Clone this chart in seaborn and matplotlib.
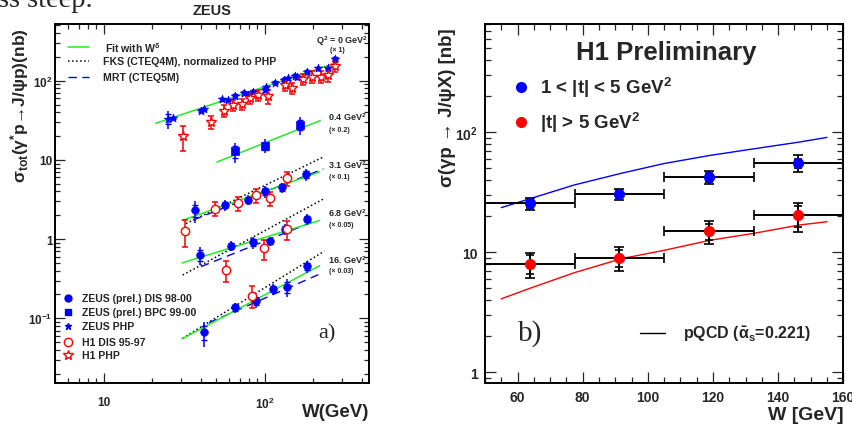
import numpy as np
import matplotlib
matplotlib.use("Agg")
import matplotlib.pyplot as plt
import seaborn as sns
from matplotlib.ticker import LogLocator, FixedLocator, FixedFormatter, MultipleLocator, NullFormatter

# ---------------- panel a) data (sigma already scaled by the Q2 factor) ----------------
# Q2 = 0 (x1) photoproduction
zeus_php_w = [25, 27, 40, 42, 54, 59, 65, 74, 79, 85, 100, 101, 116, 131, 139, 154, 158, 184, 214, 245, 272]
zeus_php_s = [33, 34, 42, 44, 58, 57, 64, 70, 67, 73, 77, 83, 95, 103, 107, 116, 111, 130, 143, 143, 190]
zeus_php_e = [0.25, 0.06, 0.06, 0.06, 0.08, 0.06, 0.08, 0.08, 0.08, 0.08, 0.1, 0.08,
              0.08, 0.08, 0.08, 0.08, 0.08, 0.08, 0.08, 0.08, 0.08]
h1_php_w = [31, 46, 56, 63, 72, 81, 91, 105, 133, 147, 172, 197, 223, 247, 272]
h1_php_s = [20, 30, 42, 49, 51, 61, 66, 64, 88, 80, 105, 113, 113, 118, 155]
h1_php_e = [0.35, 0.18, 0.18, 0.16, 0.16, 0.16, 0.16, 0.2, 0.16, 0.16, 0.16, 0.18, 0.18, 0.18, 0.16]

# Q2 = 0.4 (x0.2) ZEUS BPC
bpc_w = [65, 100, 165]
bpc_s = [12.8, 15.2, 27.7]
bpc_e = [0.28, 0.2, 0.25]

# ZEUS DIS 98-00
dis31_w = [36.6, 56.4, 79, 100, 128, 179]
dis31_s = [2.3, 2.68, 3.13, 4.02, 4.5, 6.6]
dis31_e = [0.3, 0.15, 0.15, 0.18, 0.15, 0.18]
dis68_w = [39.4, 61.6, 84.5, 107, 134, 182]
dis68_s = [0.63, 0.83, 0.91, 0.94, 1.34, 1.79]
dis68_e = [0.25, 0.15, 0.18, 0.12, 0.15, 0.15]
dis16_w = [41.8, 65.3, 88, 112, 138, 184]
dis16_s = [0.067, 0.137, 0.166, 0.235, 0.249, 0.454]
dis16_e = [0.35, 0.15, 0.18, 0.15, 0.25, 0.18]

# H1 DIS 95-97
h1dis31_w = [31.8, 48.9, 68.3, 88.6, 108, 138]
h1dis31_s = [1.28, 2.43, 2.84, 3.57, 3.31, 5.9]
h1dis31_e = [0.38, 0.2, 0.2, 0.2, 0.2, 0.2]
h1dis68_w = [57, 98.6, 138]
h1dis68_s = [0.407, 0.764, 1.34]
h1dis68_e = [0.3, 0.28, 0.28]
h1dis16_w = [83.8]
h1dis16_s = [0.194]
h1dis16_e = [0.3]

# fit with W^delta (green), FKS (dotted), MRT (dashed): end points
fit_lines = {
    "0": ([21, 287], [29, 173]),
    "0.4": ([50.4, 221], [9.4, 31.4]),
    "3.1": ([30.6, 219], [1.72, 7.05]),
    "6.8": ([30.6, 219], [0.5, 1.72]),
    "16": ([30.6, 219], [0.055, 0.462]),
}
fks_lines = {
    "3.1": ([32.4, 231], [1.57, 10.9]),
    "6.8": ([30.9, 237], [0.352, 3.3]),
    "16": ([30.9, 234], [0.056, 0.706]),
}
mrt_lines = {
    "3.1": ([36, 231], [1.75, 7.7]),
    "6.8": ([40.2, 210], [0.45, 1.73]),
    "16": ([45, 231], [0.088, 0.38]),
}

# ---------------- panel b) data ----------------
bin_w = [63.75, 91.25, 118.75, 146.25]
bin_half = [13.75, 13.75, 13.75, 13.75]
lowt_s = [25.6, 30.5, 42.3, 55.4]
lowt_stat = [2.0, 2.3, 3.5, 5.0]
lowt_tot = [2.9, 3.4, 5.5, 9.0]
hight_s = [8.06, 9.05, 15.0, 20.4]
hight_stat = [1.4, 1.5, 2.4, 4.0]
hight_tot = [1.9, 2.0, 3.3, 5.5]

pqcd_w = [55, 64, 77.5, 92, 105, 119, 132.5, 146.5, 155]
pqcd_lowt = [23.6, 28.1, 36.5, 45.7, 55, 64.2, 72.9, 83, 90.8]
pqcd_hight = [4.1, 5.04, 6.78, 8.87, 10.4, 12.6, 14.4, 16.9, 18.0]

GREEN = "#22ee22"
BLUE = "#0000ff"
RED = "#ff0000"
B = "bold"

sns.set_theme(style="ticks")
plt.rcParams["font.family"] = ["Liberation Sans", "DejaVu Sans"]
plt.rcParams["font.weight"] = "bold"
plt.rcParams["axes.labelweight"] = "bold"
plt.rcParams["mathtext.fontset"] = "custom"
plt.rcParams["mathtext.rm"] = "Liberation Sans:bold"
plt.rcParams["mathtext.bf"] = "Liberation Sans:bold"
plt.rcParams["mathtext.it"] = "Liberation Sans:bold:italic"
plt.rcParams["mathtext.sf"] = "Liberation Sans:bold"
plt.rcParams["mathtext.default"] = "bf"

fig = plt.figure(figsize=(8.52, 4.31), dpi=100)
ax1 = fig.add_axes([0.0649, 0.1083, 0.3685, 0.8336])
ax2 = fig.add_axes([0.5692, 0.1097, 0.4205, 0.8323])


def line(ax, w, s, color, ls="-", lw=1.0):
    sns.lineplot(x=w, y=s, ax=ax, color=color, linestyle=ls, linewidth=lw,
                 estimator=None, sort=False, legend=False)


def points(ax, w, s, rel, marker, color, size, filled=True, caps=0, ticks=False):
    s = np.array(s)
    err = s * np.array(rel)
    ax.errorbar(w, s, yerr=err, fmt="none", ecolor=color, elinewidth=1.1, capsize=caps, capthick=1.1, zorder=3)
    if ticks:
        ax.scatter(w, s + 0.6 * err, marker="_", s=18, color=color, lw=1.0, zorder=3)
        ax.scatter(w, s - 0.6 * err, marker="_", s=18, color=color, lw=1.0, zorder=3)
    if filled:
        sns.scatterplot(x=w, y=s, ax=ax, marker=marker, s=size, color=color, edgecolor=color,
                        linewidth=0.5, legend=False, zorder=4)
    else:
        ax.plot(w, s, linestyle="none", marker=marker, ms=np.sqrt(size), mfc="white", mec=color,
                mew=1.0, zorder=4)


# ---------------- panel a ----------------
ax1.set_xscale("log")
ax1.set_yscale("log")
for key, (w, s) in fks_lines.items():
    line(ax1, w, s, "black", ":", 1.1)
for key, (w, s) in mrt_lines.items():
    line(ax1, w, s, BLUE, (0, (6, 4)), 1.0)
for key, (w, s) in fit_lines.items():
    line(ax1, w, s, GREEN, "-", 1.1)

points(ax1, zeus_php_w, zeus_php_s, zeus_php_e, "*", BLUE, 40, ticks=True)
points(ax1, h1_php_w, h1_php_s, h1_php_e, "*", RED, 50, filled=False, caps=2)
points(ax1, bpc_w, bpc_s, bpc_e, "s", BLUE, 30, ticks=True)
for w, s, e in [(dis31_w, dis31_s, dis31_e), (dis68_w, dis68_s, dis68_e), (dis16_w, dis16_s, dis16_e)]:
    points(ax1, w, s, e, "o", BLUE, 30, ticks=True)
for w, s, e in [(h1dis31_w, h1dis31_s, h1dis31_e), (h1dis68_w, h1dis68_s, h1dis68_e),
                (h1dis16_w, h1dis16_s, h1dis16_e)]:
    points(ax1, w, s, e, "o", RED, 36, filled=False, caps=2.5)

ax1.set_xlim(5, 445)
ax1.set_ylim(0.0151, 520)
ax1.xaxis.set_major_locator(FixedLocator([10, 100]))
ax1.xaxis.set_major_formatter(FixedFormatter(["10", "$10^{2}$"]))
ax1.xaxis.set_minor_locator(LogLocator(base=10, subs=np.arange(2, 10)))
ax1.xaxis.set_minor_formatter(NullFormatter())
ax1.yaxis.set_major_locator(FixedLocator([0.1, 1, 10, 100]))
ax1.yaxis.set_major_formatter(FixedFormatter(["$10^{-1}$", "1", "10", "$10^{2}$"]))
ax1.yaxis.set_minor_locator(LogLocator(base=10, subs=np.arange(2, 10)))
ax1.yaxis.set_minor_formatter(NullFormatter())
ax1.tick_params(axis="both", which="both", direction="in", top=True, right=True, labelsize=8.5, width=0.9)
ax1.tick_params(axis="both", which="major", length=7)
ax1.tick_params(axis="both", which="minor", length=3.5)
ax1.tick_params(axis="x", which="major", pad=9)
ax1.tick_params(axis="y", which="major", pad=2)
for lab in ax1.get_xticklabels() + ax1.get_yticklabels():
    lab.set_fontweight(B)
for sp in ax1.spines.values():
    sp.set_linewidth(1.4)
    sp.set_color("black")

ax1.set_ylabel("σ$_{tot}$(γ$^{*}$p→J/ψp)(nb)", fontsize=12.5, loc="top", fontweight=B)
ax1.yaxis.set_label_coords(-0.076, 0.99)
ax1.set_xlabel("W(GeV)", fontsize=13.5, loc="right", fontweight=B)
ax1.xaxis.set_label_coords(1.0, -0.055)

# top legend
leg_y = [0.935, 0.897, 0.853]
ax1.plot([0.04, 0.108], [leg_y[0]] * 2, transform=ax1.transAxes, color=GREEN, lw=1.1)
ax1.plot([0.04, 0.108], [leg_y[1]] * 2, transform=ax1.transAxes, color="black", ls=":", lw=1.1)
ax1.plot([0.04, 0.108], [leg_y[2]] * 2, transform=ax1.transAxes, color=BLUE, ls=(0, (6, 4)), lw=1.0)
ax1.text(0.159, leg_y[0], r"Fit with W$^{\delta}$", transform=ax1.transAxes, fontsize=7.6, va="center", fontweight=B)
ax1.text(0.151, leg_y[1], "FKS (CTEQ4M), normalized to PHP", transform=ax1.transAxes, fontsize=7.6,
         va="center", fontweight=B)
ax1.text(0.151, leg_y[2], "MRT (CTEQ5M)", transform=ax1.transAxes, fontsize=7.6, va="center", fontweight=B)

# bottom legend
mk = [("o", BLUE, True, "ZEUS (prel.) DIS 98-00", 0.2366, 5),
      ("s", BLUE, True, "ZEUS (prel.) BPC 99-00", 0.199, 5),
      ("*", BLUE, True, "ZEUS PHP", 0.160, 5),
      ("o", RED, False, "H1 DIS 95-97", 0.114, 6),
      ("*", RED, False, "H1 PHP", 0.080, 7)]
for m, c, f, lab, y, ms in mk:
    ax1.plot([0.041], [y], transform=ax1.transAxes, marker=m, ms=ms, mec=c,
             mfc=c if f else "white", mew=1.0, linestyle="none")
    ax1.text(0.084, y, lab, transform=ax1.transAxes, fontsize=7.6, va="center", fontweight=B)

# Q2 labels
q2_labels = [(0.830, 0.956, r"Q$^{2}$ = 0 GeV$^{2}$", 6.5), (0.875, 0.928, r"(× 1)", 5),
             (0.869, 0.743, r"0.4 GeV$^{2}$", 6.5), (0.873, 0.706, r"(× 0.2)", 5),
             (0.869, 0.611, r"3.1 GeV$^{2}$", 6.5), (0.873, 0.576, r"(× 0.1)", 5),
             (0.869, 0.476, r"6.8 GeV$^{2}$", 6.5), (0.873, 0.443, r"(× 0.05)", 5),
             (0.869, 0.346, r"16. GeV$^{2}$", 6.5), (0.873, 0.315, r"(× 0.03)", 5)]
for x, y, t, fs in q2_labels:
    ax1.text(x, y, t, transform=ax1.transAxes, fontsize=fs, va="center", fontweight=B)

ax1.text(0.865, 0.14, "a)", transform=ax1.transAxes, fontsize=16, ha="center", va="center",
         family="Liberation Serif", fontweight="normal")
fig.text(212.5 / 852, 1 - 11 / 431, "ZEUS", fontsize=10.5, ha="center", va="center", fontweight=B)
fig.text(-0.002, 1 - 7 / 431, "ss steep.", fontsize=20.5, family="Liberation Serif",
         fontweight="normal", va="baseline")

# ---------------- panel b ----------------
ax2.set_yscale("log")
line(ax2, pqcd_w, pqcd_lowt, BLUE, "-", 1.0)
line(ax2, pqcd_w, pqcd_hight, RED, "-", 1.0)

for s, stat, tot, c in [(lowt_s, lowt_stat, lowt_tot, BLUE), (hight_s, hight_stat, hight_tot, RED)]:
    s = np.array(s)
    ax2.errorbar(bin_w, s, xerr=bin_half, yerr=tot, fmt="none", ecolor="black", elinewidth=1.4,
                 capsize=3.5, capthick=1.2, zorder=3)
    ax2.scatter(bin_w, s + np.array(stat), marker="_", s=40, color="black", lw=1.2, zorder=3)
    ax2.scatter(bin_w, s - np.array(stat), marker="_", s=40, color="black", lw=1.2, zorder=3)
    sns.scatterplot(x=bin_w, y=s, ax=ax2, s=55, color=c, edgecolor=c, legend=False, zorder=4)

ax2.set_xlim(50, 160)
ax2.set_ylim(0.82, 800)
ax2.xaxis.set_major_locator(MultipleLocator(20))
ax2.xaxis.set_minor_locator(MultipleLocator(5))
ax2.yaxis.set_major_locator(FixedLocator([1, 10, 100]))
ax2.yaxis.set_major_formatter(FixedFormatter(["1", "10", "$10^{2}$"]))
ax2.yaxis.set_minor_locator(LogLocator(base=10, subs=np.arange(2, 10)))
ax2.yaxis.set_minor_formatter(NullFormatter())
ax2.tick_params(axis="both", which="both", direction="in", top=True, right=True, labelsize=10, width=0.9)
ax2.tick_params(axis="both", which="major", length=8)
ax2.tick_params(axis="both", which="minor", length=4)
ax2.tick_params(axis="x", which="major", pad=5)
ax2.tick_params(axis="y", which="major", pad=5)
for lab in ax2.get_xticklabels() + ax2.get_yticklabels():
    lab.set_fontweight(B)
for sp in ax2.spines.values():
    sp.set_linewidth(1.4)
    sp.set_color("black")

ax2.set_ylabel("σ(γp → J/ψX) [nb]", fontsize=13.5, loc="top", fontweight=B)
ax2.yaxis.set_label_coords(-0.081, 0.99)
ax2.set_xlabel("W [GeV]", fontsize=14, loc="right", fontweight=B)
ax2.xaxis.set_label_coords(1.0, -0.066)

ax2.text(0.505, 0.922, "H1 Preliminary", transform=ax2.transAxes, fontsize=18.5, ha="center", va="center",
         fontweight=B)
ax2.plot([0.0997], [0.824], transform=ax2.transAxes, marker="o", ms=7, color=BLUE, linestyle="none")
ax2.plot([0.0997], [0.727], transform=ax2.transAxes, marker="o", ms=7, color=RED, linestyle="none")
ax2.text(0.153, 0.824, r"1 < |t| < 5 GeV$^{2}$", transform=ax2.transAxes, fontsize=13.5, va="center",
         fontweight=B)
ax2.text(0.153, 0.727, r"|t| > 5 GeV$^{2}$", transform=ax2.transAxes, fontsize=13.5, va="center", fontweight=B)
ax2.plot([0.433, 0.503], [0.138, 0.138], transform=ax2.transAxes, color="black", lw=1.0)
ax2.text(0.553, 0.138, r"pQCD ($\bar{\alpha}_{s}$=0.221)", transform=ax2.transAxes, fontsize=11.5,
         va="center", fontweight=B)
ax2.text(0.126, 0.141, "b)", transform=ax2.transAxes, fontsize=21, ha="center", va="center",
         family="Liberation Serif", fontweight="normal")

fig.savefig("out.png", dpi=100)
